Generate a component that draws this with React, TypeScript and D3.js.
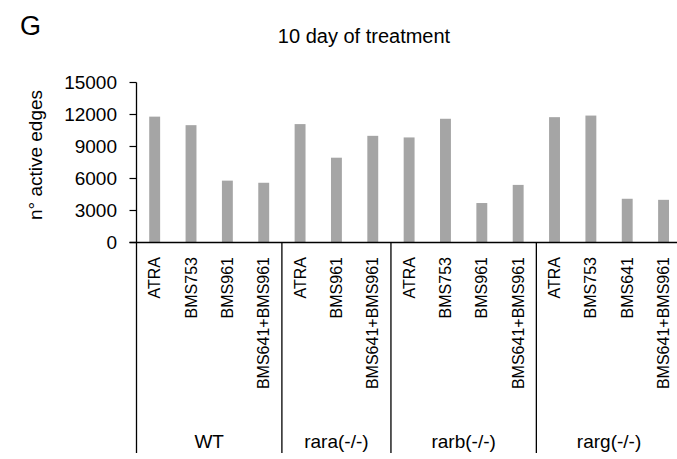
import React from 'react';
import * as d3 from 'd3';

const groups = ['WT', 'rara(-/-)', 'rarb(-/-)', 'rarg(-/-)'];
const groupTreatments = [
  ['ATRA', 'BMS753', 'BMS961', 'BMS641+BMS961'],
  ['ATRA', 'BMS961', 'BMS641+BMS961'],
  ['ATRA', 'BMS753', 'BMS961', 'BMS641+BMS961'],
  ['ATRA', 'BMS753', 'BMS641', 'BMS641+BMS961'],
];
const groupValues = [
  [11800, 11000, 5800, 5600],
  [11100, 7950, 10000],
  [9850, 11600, 3700, 5400],
  [11750, 11900, 4100, 4000],
];
const yTicks = [0, 3000, 6000, 9000, 12000, 15000];

const W = 677;
const H = 459;
const FONT = "'Liberation Sans', Arial, sans-serif";

const App: React.FC = () => {
  const bars = groups.flatMap((g, gi) =>
    groupTreatments[gi].map((t, ti) => ({ group: g, gi, label: t, value: groupValues[gi][ti], key: `${gi}-${ti}` }))
  );

  const x = d3.scaleBand<string>()
    .domain(bars.map(b => b.key))
    .range([136.5, 136.5 + bars.length * 36.35])
    .paddingInner(0.7)
    .paddingOuter(0.35);
  const step = x.step();
  const x0 = 136.5;

  const y = d3.scaleLinear().domain([0, 15000]).range([242.5, 82.5]);

  // group boundaries
  let acc = 0;
  const bounds = groups.map((g, gi) => {
    const start = acc;
    acc += groupTreatments[gi].length;
    return { g, start, end: acc };
  });

  const axisBottom = 453;

  return (
    <div style={{ position: 'fixed', left: 0, top: 0, background: '#fff' }}>
      <svg width={W} height={H} style={{ display: 'block', fontFamily: FONT }}>
        <rect width={W} height={H} fill="#fff" />
        <text x={20} y={35} fontSize={27} fill="#000">G</text>
        <text x={364} y={43} fontSize={20} textAnchor="middle" fill="#000">10 day of treatment</text>
        <text transform={`translate(42,155) rotate(-90)`} fontSize={19} textAnchor="middle" fill="#000">n° active edges</text>

        {bars.map(b => (
          <rect key={b.key} x={x(b.key)} y={y(b.value)} width={x.bandwidth()} height={y(0) - y(b.value)} fill="#a5a5a5" />
        ))}

        {yTicks.map(t => (
          <g key={t}>
            <line x1={x0 - 7} x2={x0} y1={y(t)} y2={y(t)} stroke="#000" strokeWidth={1.2} />
            <text x={117} y={y(t)} dy="0.35em" fontSize={19} textAnchor="end" fill="#000">{t}</text>
          </g>
        ))}

        <line x1={x0} x2={x0} y1={y(15000)} y2={axisBottom} stroke="#000" strokeWidth={1.3} />
        <line x1={x0 - 7} x2={x0 + bars.length * step} y1={y(0)} y2={y(0)} stroke="#000" strokeWidth={1.3} />

        {bounds.map(b => (
          <g key={b.g}>
            <line x1={x0 + b.end * step} x2={x0 + b.end * step} y1={y(0)} y2={axisBottom} stroke="#000" strokeWidth={1.3} />
            <text x={x0 + (b.start + b.end) / 2 * step} y={448} fontSize={19} textAnchor="middle" fill="#000">{b.g}</text>
          </g>
        ))}

        {bars.map(b => (
          <text key={b.key} transform={`translate(${(x(b.key) ?? 0) + x.bandwidth() / 2},257) rotate(-90)`}
            dy="0.35em" fontSize={16} textAnchor="end" fill="#000">{b.label}</text>
        ))}
      </svg>
    </div>
  );
};

export default App;
